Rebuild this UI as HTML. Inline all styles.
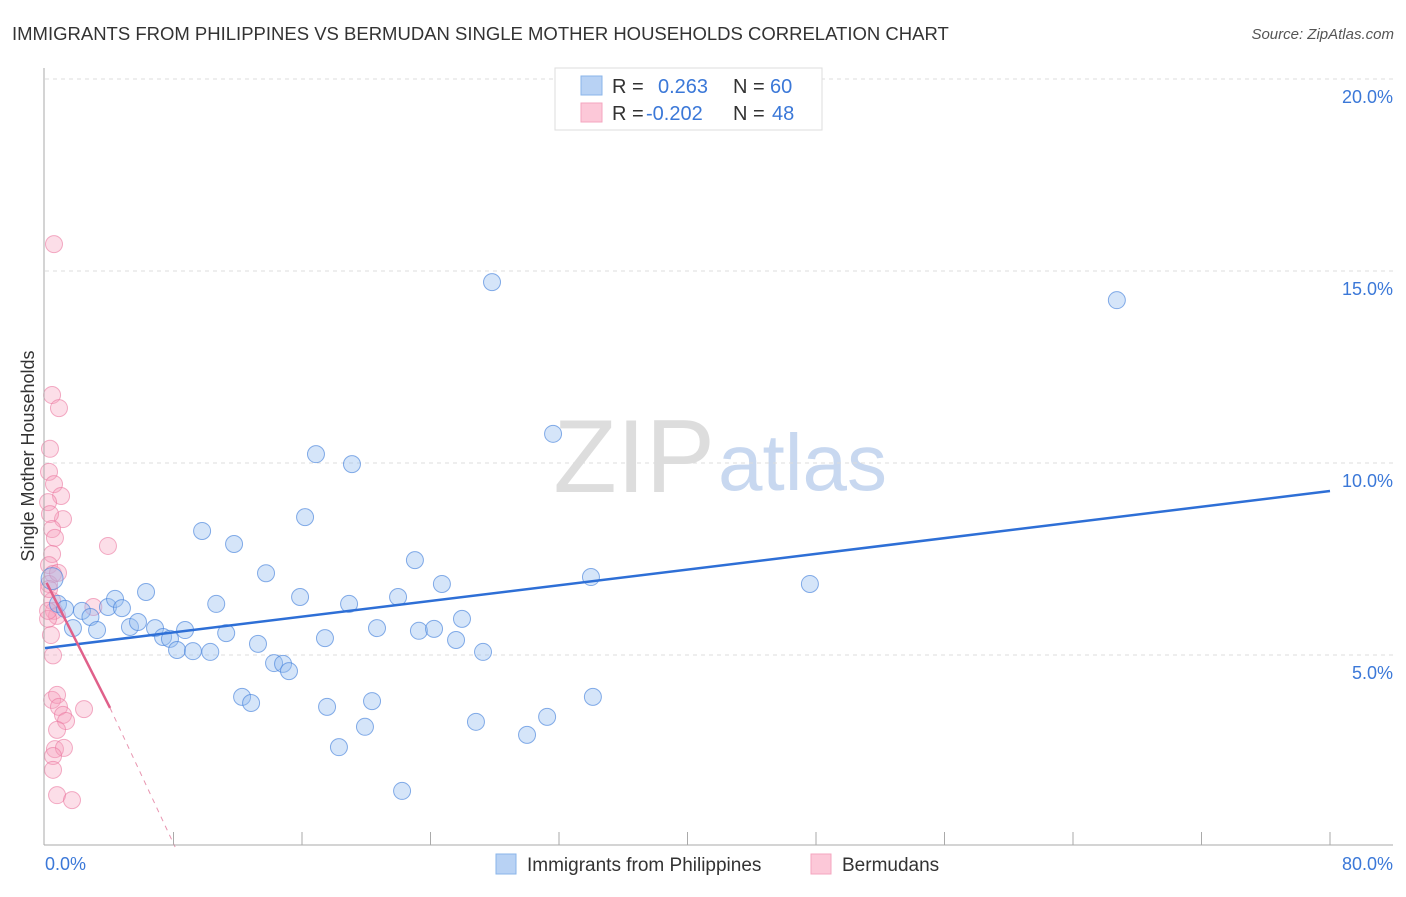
<!DOCTYPE html>
<html><head><meta charset="utf-8"><style>
body{margin:0;background:#fff;font-family:"Liberation Sans",sans-serif}
svg text{font-family:"Liberation Sans",sans-serif}
</style></head><body>
<svg id="c" width="1406" height="892">
<text x="12" y="40" font-size="18.5" fill="#333">IMMIGRANTS FROM PHILIPPINES VS BERMUDAN SINGLE MOTHER HOUSEHOLDS CORRELATION CHART</text>
<text x="1394" y="39" font-size="15" fill="#555" font-style="italic" text-anchor="end">Source: ZipAtlas.com</text>
<text x="715" y="492" font-size="104" fill="#ddd" text-anchor="end" font-family="Liberation Serif">ZIP</text>
<text x="718" y="490" font-size="80" fill="#c8d8f0">atlas</text>
<text transform="translate(34,456) rotate(-90)" font-size="18" fill="#333" text-anchor="middle">Single Mother Households</text>
<g id="grid"></g><g id="pts"></g><g id="trend"></g>
<line x1="44" y1="68" x2="44" y2="845" stroke="#aaa"/>
<line x1="44" y1="845" x2="1393" y2="845" stroke="#aaa"/>
<text x="45" y="870" font-size="18" fill="#3b78d8">0.0%</text>
<text x="1393" y="870" font-size="18" fill="#3b78d8" text-anchor="end">80.0%</text>
<g>
<rect x="555" y="68" width="267" height="62" fill="#fff" stroke="#ddd"/>
<rect x="581" y="76" width="21" height="19" fill="#b8d2f4" stroke="#8ab4ea"/>
<rect x="581" y="103" width="21" height="19" fill="#fcc8d8" stroke="#f4a6bf"/>
<text x="612" y="93" font-size="20" fill="#333">R =</text><text x="658" y="93" font-size="20" fill="#3b78d8">0.263</text>
<text x="733" y="93" font-size="20" fill="#333">N =</text><text x="770" y="93" font-size="20" fill="#3b78d8">60</text>
<text x="612" y="120" font-size="20" fill="#333">R =</text><text x="646" y="120" font-size="20" fill="#3b78d8">-0.202</text>
<text x="733" y="120" font-size="20" fill="#333">N =</text><text x="772" y="120" font-size="20" fill="#3b78d8">48</text>
</g>
<g>
<rect x="496" y="854" width="20" height="20" fill="#b8d2f4" stroke="#8ab4ea"/>
<text x="527" y="871" font-size="19" fill="#333">Immigrants from Philippines</text>
<rect x="811" y="854" width="20" height="20" fill="#fcc8d8" stroke="#f4a6bf"/>
<text x="842" y="871" font-size="19" fill="#333">Bermudans</text>
</g>
</svg>
<script>
const yTicks=[5,10,15,20];
const yTickLabels=["5.0%","10.0%","15.0%","20.0%"];
const xTickVals=[8,16,24,32,40,48,56,64,72,80];
const blueX=[0.44,0.81,1.25,1.74,2.30,2.83,3.24,3.92,4.36,4.79,5.29,5.79,6.29,6.85,7.35,7.78,8.22,8.72,9.21,9.78,10.29,10.66,11.28,11.77,12.27,12.83,13.26,13.76,14.26,14.82,15.19,15.88,16.19,16.87,17.43,17.56,18.30,18.93,19.11,19.92,20.36,20.67,21.98,22.23,23.03,23.28,24.22,24.71,25.59,25.96,26.83,27.27,27.83,30.01,31.26,31.63,33.99,34.11,47.62,66.73];
const blueY=[6.99,6.33,6.20,5.70,6.15,5.99,5.65,6.25,6.46,6.22,5.73,5.86,6.64,5.70,5.47,5.42,5.13,5.65,5.10,8.23,5.08,6.33,5.57,7.89,3.91,3.75,5.29,7.13,4.79,4.77,4.58,6.51,8.59,10.23,5.44,3.65,2.60,6.33,9.97,3.13,3.80,5.70,6.51,1.46,7.47,5.63,5.68,6.85,5.39,5.94,3.26,5.08,14.71,2.92,3.39,10.76,7.03,3.91,6.85,14.24];
const pinkX=[0.56,0.44,0.87,0.31,0.25,0.56,1.00,0.19,1.12,0.31,0.44,0.62,0.44,0.25,0.50,0.25,0.81,3.92,0.44,0.56,3.01,0.75,0.37,0.50,0.44,0.75,0.87,1.12,1.31,2.43,0.75,0.62,1.18,0.50,0.50,0.75,1.68,0.19,0.25,0.19];
const pinkY=[15.70,11.77,11.43,10.37,9.77,9.45,9.14,8.98,8.54,8.67,8.28,8.05,7.63,7.34,7.11,6.85,7.14,7.84,6.41,6.15,6.25,6.02,5.52,4.99,3.83,3.96,3.65,3.44,3.28,3.59,3.05,2.55,2.58,2.37,2.01,1.35,1.22,5.94,6.72,6.15];
const blueTrend=[[0,5.18],[80,9.27]];
const pinkTrend=[[0.1,6.88],[4.05,3.62],[8.1,0.0]];
const X=v=>45+v/80*1285, Y=v=>847-v*38.4;
const NS="http://www.w3.org/2000/svg";
function mk(tag,attrs,parent){const e=document.createElementNS(NS,tag);for(const k in attrs)e.setAttribute(k,attrs[k]);document.getElementById(parent).appendChild(e);return e;}
yTicks.forEach((t,i)=>{
 const l=mk('line',{x1:45,x2:1393,y1:Y(t),y2:Y(t),stroke:'#ddd','stroke-dasharray':'4,4'},'grid');
 
 
 const tx=mk('text',{x:1393,y:Y(t)+24,'font-size':18,fill:'#3b78d8','text-anchor':'end'},'grid');
 tx.textContent=yTickLabels[i];
 
 
});
xTickVals.forEach(t=>{
 const l=mk('line',{x1:X(t),x2:X(t),y1:832,y2:845,stroke:'#aaa'},'grid');
 
 
});
pinkX.forEach((v,i)=>{
 const c=mk('circle',{cx:X(v),cy:Y(pinkY[i]),r:8.5,fill:'rgba(245,160,190,0.35)',stroke:'rgba(235,120,160,0.6)','stroke-width':1},'pts');
 
 
});
blueX.forEach((v,i)=>{
 const c=mk('circle',{cx:X(v),cy:Y(blueY[i]),r:i==0?11:8.5,fill:'rgba(150,190,240,0.4)',stroke:'rgba(70,130,220,0.65)','stroke-width':1},'pts');
 
 
});
const bl=mk('line',{x1:X(blueTrend[0][0]),y1:Y(blueTrend[0][1]),x2:X(blueTrend[1][0]),y2:Y(blueTrend[1][1]),stroke:'#2e6fd6','stroke-width':2.5},'trend');


const pl=mk('line',{x1:X(pinkTrend[0][0]),y1:Y(pinkTrend[0][1]),x2:X(pinkTrend[1][0]),y2:Y(pinkTrend[1][1]),stroke:'#e0608a','stroke-width':2.5},'trend');


const pd=mk('line',{x1:X(pinkTrend[1][0]),y1:Y(pinkTrend[1][1]),x2:X(pinkTrend[2][0]),y2:Y(pinkTrend[2][1]),stroke:'#e895b0','stroke-width':1,'stroke-dasharray':'5,5'},'trend');


</script>
</body></html>
